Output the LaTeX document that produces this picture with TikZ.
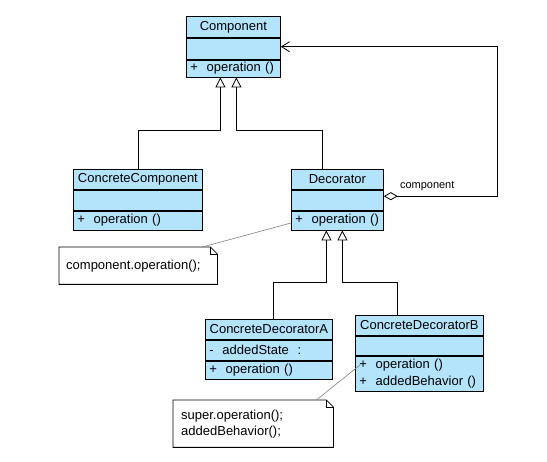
\documentclass[tikz,border=0pt]{standalone}
\usepackage{fontspec}
\setmainfont{Liberation Sans}
\usetikzlibrary{arrows.meta}
\definecolor{classfill}{RGB}{180,228,252}

\begin{document}
\begin{tikzpicture}[x=1pt,y=1pt,yscale=-1,xscale=1,
  every node/.style={font=\fontsize{13}{16}\selectfont},
  classhead/.style={draw, line width=0.8pt, fill=classfill, anchor=north west, inner sep=0pt},
  classrow/.style={draw, line width=0.8pt, fill=classfill, anchor=north west, inner xsep=4pt, inner ysep=0pt, align=left},
  notebox/.style={anchor=north west, inner xsep=7pt, inner ysep=0pt, align=left},
  inherit/.style={line width=0.8pt, -{Triangle[open, length=10pt, width=10pt]}},
  aggregate/.style={line width=0.8pt, {Diamond[open, length=14pt, width=8pt]}-{Straight Barb[length=8pt, width=10pt]}},
  notelink/.style={line width=0.6pt, black!50}]
\path[use as bounding box] (0,0) rectangle (547,462);

%Component
\node[classhead, minimum width=94pt, minimum height=21pt] (comp-name) at (186,16) {Component};
\node[classrow, text width=86pt, minimum height=21pt] (comp-attr) at (comp-name.south west) {};
\node[classrow, text width=86pt, minimum height=17pt] (comp-op) at (comp-attr.south west) {+\ \ operation ()};

%ConcreteComponent
\node[classhead, minimum width=129pt, minimum height=20pt] (cc-name) at (73,169) {ConcreteComponent};
\node[classrow, text width=121pt, minimum height=20pt] (cc-attr) at (cc-name.south west) {};
\node[classrow, text width=121pt, minimum height=19pt] (cc-op) at (cc-attr.south west) {+\ \ operation ()};

%Decorator
\node[classhead, minimum width=92pt, minimum height=20pt] (dec-name) at (291,169) {Decorator};
\node[classrow, text width=84pt, minimum height=20pt] (dec-attr) at (dec-name.south west) {};
\node[classrow, text width=84pt, minimum height=19pt] (dec-op) at (dec-attr.south west) {+\ \ operation ()};

%ConcreteDecoratorA
\node[classhead, minimum width=127pt, minimum height=20pt] (cda-name) at (205,319) {ConcreteDecoratorA};
\node[classrow, text width=119pt, minimum height=20pt] (cda-attr) at (cda-name.south west) {-\ \ addedState\ \ :};
\node[classrow, text width=119pt, minimum height=18pt] (cda-op) at (cda-attr.south west) {+\ \ operation ()};

%ConcreteDecoratorB
\node[classhead, minimum width=128pt, minimum height=20pt] (cdb-name) at (355,315) {ConcreteDecoratorB};
\node[classrow, text width=120pt, minimum height=19pt] (cdb-attr) at (cdb-name.south west) {};
\node[classrow, text width=120pt, minimum height=35pt, font=\fontsize{13}{17}\selectfont] (cdb-op) at (cdb-attr.south west) {+\ \ operation ()\\+\ \ addedBehavior ()};

%Notes
\node[notebox, text width=144pt, minimum height=37pt] (note-dec) at (59,247) {component.operation();};
\draw[line width=0.8pt, fill=white] (note-dec.south west) -- (note-dec.north west) -- ([xshift=-7pt]note-dec.north east) -- ([yshift=7pt]note-dec.north east) -- (note-dec.south east) -- cycle;
\draw[line width=0.6pt] ([xshift=-7pt]note-dec.north east) |- ([yshift=7pt]note-dec.north east);
\node[notebox, text width=144pt, minimum height=37pt] at (59,247) {component.operation();};

\node[notebox, inner xsep=8pt, text width=144pt, minimum height=47pt] (note-cdb) at (173,400) {super.operation();\\addedBehavior();};
\draw[line width=0.8pt, fill=white] (note-cdb.south west) -- (note-cdb.north west) -- ([xshift=-7pt]note-cdb.north east) -- ([yshift=7pt]note-cdb.north east) -- (note-cdb.south east) -- cycle;
\draw[line width=0.6pt] ([xshift=-7pt]note-cdb.north east) |- ([yshift=7pt]note-cdb.north east);
\node[notebox, inner xsep=8pt, text width=144pt, minimum height=47pt] at (173,400) {super.operation();\\addedBehavior();};

%Generalizations
\draw[inherit] (cc-name.north) -- ++(0,-39) -| ([xshift=-13pt]comp-op.south);
\draw[inherit] ([xshift=-15pt]dec-name.north) -- ++(0,-39) -| ([xshift=3pt]comp-op.south);
\draw[inherit] ([xshift=4.5pt]cda-name.north) -- ++(0,-37) -| ([xshift=-11pt]dec-op.south);
\draw[inherit] ([xshift=-22pt]cdb-name.north) -- ++(0,-33) -| ([xshift=5pt]dec-op.south);

%Aggregation
\draw[aggregate] ([yshift=-4pt]dec-attr.east) -- ++(114,0) |- ([yshift=-2pt]comp-attr.east);
\node[anchor=west, inner sep=0pt, font=\fontsize{11}{13}\selectfont] (agg-label) at ([xshift=16pt,yshift=-14pt]dec-attr.east) {component};

%Note links
\draw[notelink] ([yshift=2.5pt]dec-op.west) -- ([xshift=-15pt]note-dec.north east);
\draw[notelink] ([xshift=5pt,yshift=-8.5pt]cdb-op.west) -- ([xshift=-17pt]note-cdb.north east);

\end{tikzpicture}
\end{document}
